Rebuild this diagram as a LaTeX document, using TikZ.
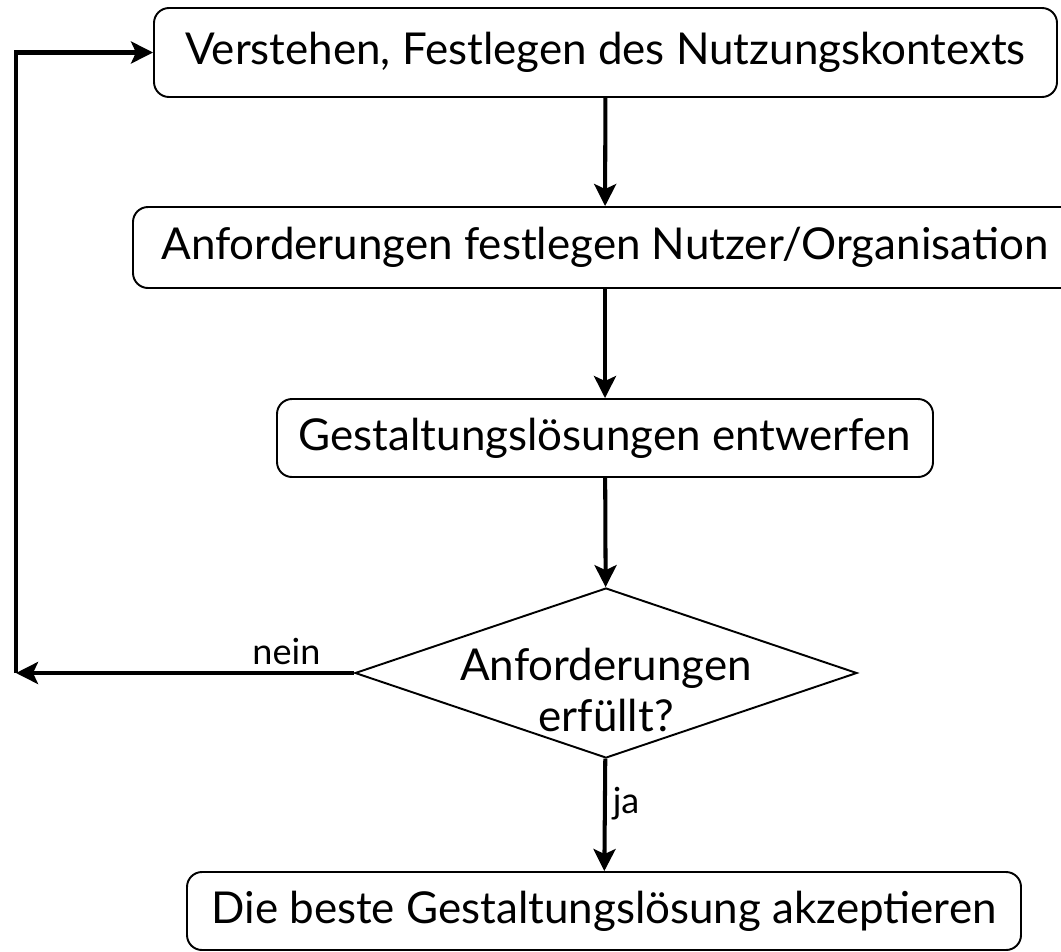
\documentclass[tikz,border=0pt]{standalone}
\usepackage{fontspec}
\setmainfont{Lato}
\usepackage{tikz}
\usetikzlibrary{shapes.geometric,arrows.meta}

\begin{document}
\begin{tikzpicture}
    % Define styles
    \tikzset{
        stepbox/.style={rectangle, rounded corners=0.3cm, draw, line width=1.1pt, inner sep=0pt, font=\fontsize{25}{29}\selectfont},
        decision/.style={diamond, draw, line width=1.1pt, inner sep=0pt},
        arrow/.style={-{Stealth[length=0.44cm, width=0.44cm, inset=0.1cm]}, line width=2.3pt},
        answer/.style={font=\fontsize{20.5}{24}\selectfont}
    }
    \useasboundingbox (0,0) rectangle (21.22,-19.02);

    % Nodes
    \node[stepbox, minimum width=18.06cm, minimum height=1.78cm] (context) at (12.11,-1.05) {Verstehen, Festlegen des Nutzungskontexts};
    \node[stepbox, minimum width=18.88cm, minimum height=1.62cm] (requirements) at (12.10,-4.95) {Anforderungen festlegen Nutzer/Organisation};
    \node[stepbox, minimum width=13.12cm, minimum height=1.56cm] (design) at (12.10,-8.76) {Gestaltungslösungen entwerfen};
    \node[decision, minimum width=10.04cm, minimum height=3.40cm] (check) at (12.12,-13.46) {};
    \node[align=center, font=\fontsize{25}{29}\selectfont] (checktext) at (12.12,-13.80) {Anforderungen\\erfüllt?};
    \node[stepbox, minimum width=16.68cm, minimum height=1.56cm] (best) at (12.08,-18.22) {Die beste Gestaltungslösung akzeptieren};
    \coordinate (back) at (0.32,-13.46);

    % Arrows
    \draw[arrow] (context) -- (requirements);
    \draw[arrow] (requirements) -- (design);
    \draw[arrow] (design) -- (check);
    \draw[arrow] (check) -- (best) node[answer, pos=0.4, right] {ja};
    \draw[arrow] (check.west) -- (back) node[answer, pos=0.2, above] {nein};
    \draw[arrow] (back) |- (context.west);
\end{tikzpicture}
\end{document}
